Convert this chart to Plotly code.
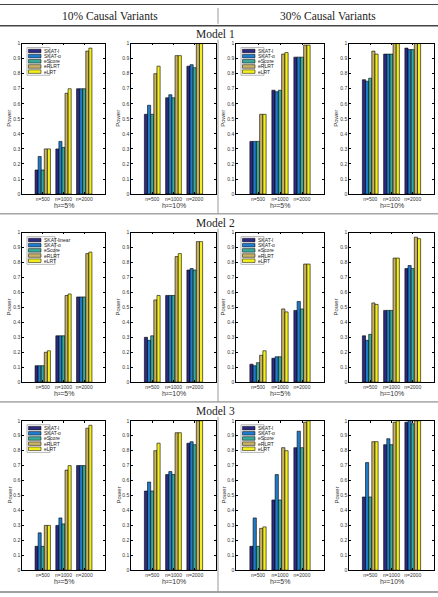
import plotly.graph_objects as go

W, H = 438, 597

SERIES = ["SKAT-l", "SKAT-o", "eScore", "eRLRT", "eLRT"]
SERIES_M2 = ["SKAT-linear", "SKAT-o", "eScore", "eRLRT", "eLRT"]
COLORS = ["#2E2A80", "#1E7CCB", "#3AAA98", "#C9B264", "#F3EF1E"]
N_LABELS = ["n=500", "n=1000", "n=2000"]
H_LABELS = ["h²=5%", "h²=10%"]
COL_HEADERS = ["10% Causal Variants", "30% Causal Variants"]
MODEL_TITLES = ["Model 1", "Model 2", "Model 3"]

# values: rows = series (SKAT-l, SKAT-o, eScore, eRLRT, eLRT), cols = n=500, 1000, 2000
M1_C10_H5 = [[0.16, 0.30, 0.70], [0.25, 0.35, 0.70], [0.16, 0.31, 0.70], [0.30, 0.67, 0.95], [0.30, 0.70, 0.97]]
M1_C10_H10 = [[0.53, 0.64, 0.85], [0.59, 0.66, 0.86], [0.53, 0.64, 0.84], [0.80, 0.92, 1.00], [0.85, 0.92, 1.00]]
M1_C30_H5 = [[0.35, 0.69, 0.91], [0.35, 0.68, 0.91], [0.35, 0.69, 0.91], [0.53, 0.93, 0.99], [0.53, 0.94, 0.99]]
M1_C30_H10 = [[0.76, 0.93, 0.97], [0.75, 0.93, 0.96], [0.77, 0.93, 0.96], [0.95, 1.00, 1.00], [0.93, 1.00, 1.00]]
M2_C10_H5 = [[0.11, 0.31, 0.57], [0.11, 0.31, 0.57], [0.11, 0.31, 0.57], [0.20, 0.58, 0.86], [0.21, 0.59, 0.87]]
M2_C10_H10 = [[0.30, 0.58, 0.75], [0.28, 0.58, 0.76], [0.31, 0.58, 0.75], [0.55, 0.84, 0.94], [0.58, 0.86, 0.94]]
M2_C30_H5 = [[0.12, 0.16, 0.48], [0.11, 0.17, 0.54], [0.13, 0.17, 0.49], [0.18, 0.49, 0.79], [0.21, 0.47, 0.79]]
M2_C30_H10 = [[0.31, 0.48, 0.76], [0.28, 0.48, 0.78], [0.32, 0.48, 0.76], [0.53, 0.83, 0.97], [0.52, 0.83, 0.96]]
M3_C10_H5 = [[0.16, 0.30, 0.70], [0.25, 0.35, 0.70], [0.16, 0.31, 0.70], [0.30, 0.67, 0.95], [0.30, 0.70, 0.97]]
M3_C10_H10 = [[0.53, 0.64, 0.85], [0.59, 0.66, 0.86], [0.53, 0.64, 0.84], [0.80, 0.92, 1.00], [0.85, 0.92, 1.00]]
M3_C30_H5 = [[0.16, 0.47, 0.82], [0.35, 0.64, 0.93], [0.16, 0.47, 0.82], [0.28, 0.82, 0.99], [0.29, 0.80, 1.00]]
M3_C30_H10 = [[0.49, 0.84, 0.99], [0.72, 0.88, 1.00], [0.49, 0.84, 0.98], [0.86, 0.99, 1.00], [0.86, 1.00, 1.00]]

PANELS = [
    [M1_C10_H5, M1_C10_H10, M1_C30_H5, M1_C30_H10],
    [M2_C10_H5, M2_C10_H10, M2_C30_H5, M2_C30_H10],
    [M3_C10_H5, M3_C10_H10, M3_C30_H5, M3_C30_H10],
]
Y_TICKS = [0, 0.1, 0.2, 0.3, 0.4, 0.5, 0.6, 0.7, 0.8, 0.9, 1]

# layout geometry (pixels)
COLS_PX = [(22, 105), (131, 216), (236, 324), (349, 434)]
ROWS_PX = [(41, 193), (232, 383), (422, 573)]
MODEL_Y = [31, 222, 412]


def px(x):
    return x / W


def py(y):
    return 1 - y / H


SANS = "Liberation Sans, Arial"
TICK_FONT = dict(family=SANS, size=5, color="#333333")
SERIF = "Liberation Serif, Times New Roman"

fig = go.Figure()
layout = dict(
    width=W, height=H, margin=dict(l=0, r=0, t=0, b=0), autosize=False,
    paper_bgcolor="white", plot_bgcolor="white", showlegend=False,
    barmode="group", bargap=0.26, bargroupgap=0.0,
    shapes=[], annotations=[],
)

idx = 0
for r in range(3):
    for c in range(4):
        idx += 1
        xa = "x" if idx == 1 else f"x{idx}"
        ya = "y" if idx == 1 else f"y{idx}"
        data = PANELS[r][c]
        for s in range(5):
            fig.add_trace(go.Bar(
                x=[1, 2, 3], y=data[s], name=SERIES[s], xaxis=xa, yaxis=ya,
                marker=dict(color=COLORS[s], line=dict(color="black", width=0.6)),
                showlegend=False,
            ))
        x0, x1 = COLS_PX[c]
        y0, y1 = ROWS_PX[r]
        xkey = "xaxis" if idx == 1 else f"xaxis{idx}"
        ykey = "yaxis" if idx == 1 else f"yaxis{idx}"
        layout[xkey] = dict(
            domain=[px(x0), px(x1)], anchor=ya, range=[0, 4],
            tickvals=[1, 2, 3], ticktext=N_LABELS, tickfont=TICK_FONT,
            ticks="inside", ticklen=2, tickcolor="black", tickwidth=0.6,
            showline=True, linecolor="black", linewidth=0.6, mirror="ticks",
            showgrid=False, zeroline=False, fixedrange=True,
        )
        layout[ykey] = dict(
            domain=[py(y1), py(y0)], anchor=xa, range=[0, 1],
            tickvals=Y_TICKS, ticktext=[f"{v:g}" for v in Y_TICKS], tickfont=TICK_FONT,
            ticks="inside", ticklen=2, tickcolor="black", tickwidth=0.6,
            showline=True, linecolor="black", linewidth=0.6, mirror="ticks",
            showgrid=False, zeroline=False, fixedrange=True,
        )
        # axis titles
        layout["annotations"].append(dict(
            text=H_LABELS[c % 2], xref="paper", yref="paper",
            x=px((x0 + x1) / 2), y=py(y1 + 11.5), xanchor="center", yanchor="middle",
            showarrow=False, font=dict(family=SANS, size=7, color="#333333"),
        ))
        layout["annotations"].append(dict(
            text="Power", xref="paper", yref="paper", textangle=-90,
            x=px(x0 - 13), y=py((y0 + y1) / 2), xanchor="center", yanchor="middle",
            showarrow=False, font=dict(family=SANS, size=6, color="#333333"),
        ))
        # legends in the h2=5% panels
        if c % 2 == 0:
            names = SERIES_M2 if (r == 1 and c == 0) else SERIES
            bw = 28 if (r == 1 and c == 0) else 23
            lx = x0 + 5
            ly = y0 + 4
            layout["shapes"].append(dict(
                type="rect", xref="paper", yref="paper",
                x0=px(lx), x1=px(lx + bw), y0=py(ly + 28), y1=py(ly),
                line=dict(color="#888888", width=0.6), fillcolor="white", layer="above",
            ))
            for s in range(5):
                cy = ly + 3.5 + s * 5.2
                layout["shapes"].append(dict(
                    type="rect", xref="paper", yref="paper",
                    x0=px(lx + 1.5), x1=px(lx + 14), y0=py(cy + 1.8), y1=py(cy - 1.8),
                    line=dict(color="black", width=0.5), fillcolor=COLORS[s], layer="above",
                ))
                layout["annotations"].append(dict(
                    text=names[s], xref="paper", yref="paper", x=px(lx + 14.5), y=py(cy),
                    xanchor="left", yanchor="middle", showarrow=False,
                    font=dict(family=SANS, size=5, color="#222222"),
                ))

# headers
for i, t in enumerate(COL_HEADERS):
    layout["annotations"].append(dict(
        text=t, xref="paper", yref="paper", x=px(110 + i * 218), y=py(13),
        xanchor="center", yanchor="middle", showarrow=False,
        font=dict(family=SERIF, size=11.5, color="#222222"),
    ))
for r, t in enumerate(MODEL_TITLES):
    layout["annotations"].append(dict(
        text=t, xref="paper", yref="paper", x=px(215), y=py(MODEL_Y[r]),
        xanchor="center", yanchor="middle", showarrow=False,
        font=dict(family=SERIF, size=11.5, color="#222222"),
    ))


def hline(y, color, width):
    layout["shapes"].append(dict(type="line", xref="paper", yref="paper",
                                 x0=0, x1=1, y0=py(y), y1=py(y),
                                 line=dict(color=color, width=width)))


def vline(x, ya, yb, color, width):
    layout["shapes"].append(dict(type="line", xref="paper", yref="paper",
                                 x0=px(x), x1=px(x), y0=py(ya), y1=py(yb),
                                 line=dict(color=color, width=width)))


hline(1.5, "#444444", 1)
hline(23, "#444444", 1.5)
hline(213, "#777777", 1)
hline(403, "#777777", 1)
hline(595, "#444444", 1.2)
vline(218, 5, 21, "#999999", 1)
vline(218, 37, 213, "#999999", 1)
vline(218, 228, 403, "#999999", 1)
vline(218, 418, 595, "#999999", 1)

fig.update_layout(**layout)
fig.write_html("out.html")
